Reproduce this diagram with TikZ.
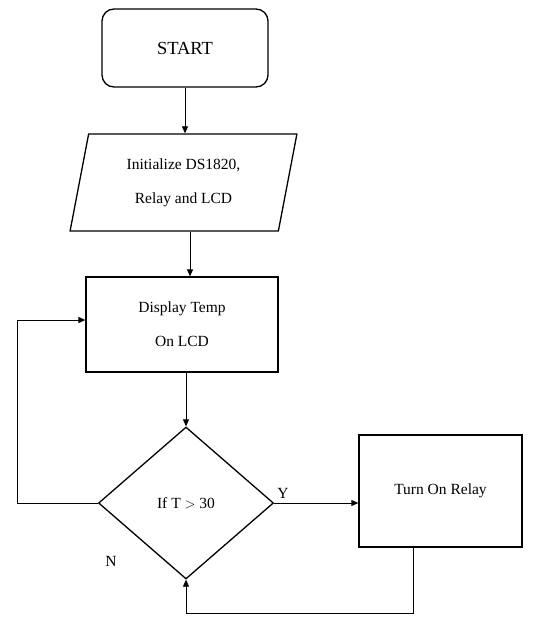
\documentclass[tikz,border=0pt]{standalone}
\usepackage{fontspec}
\setmainfont{Liberation Serif}
\usetikzlibrary{arrows.meta, shapes.geometric}

\begin{document}
\begin{tikzpicture}[x=1pt, y=-1pt,
    box/.style={draw, line width=1.3pt, align=center, inner sep=0pt, font=\fontsize{15.5}{34}\selectfont},
    flow/.style={-{Triangle[length=7pt, width=6pt]}, line width=0.8pt},
    lbl/.style={font=\fontsize{15.5}{18}\selectfont}]
    \useasboundingbox (0,0) rectangle (542,619);

    \node[box, rounded corners=12pt, minimum width=166pt, minimum height=78pt, font=\fontsize{18.5}{22}\selectfont] (start) at (185,48) {START};
    \node[box, trapezium, trapezium left angle=77, trapezium right angle=103, trapezium stretches=true,
          minimum width=227pt, minimum height=97pt] (init) at (183.5,182.5) {Initialize DS1820,\\Relay and LCD};
    \node[box, minimum width=192pt, minimum height=95pt] (disp) at (182,324.5) {Display Temp\\On LCD};
    \node[box, diamond, minimum width=175pt, minimum height=152pt] (dec) at (186,503) {If T $>$ 30};
    \node[box, minimum width=163pt, minimum height=112pt] (relay) at (440.5,491) {Turn On Relay};

    \node[lbl] (yes) at (283,493) {Y};
    \node[lbl] (no) at (111,561) {N};

    \coordinate (loop) at (17,503);
    \coordinate (ret) at (413,613);

    \draw[flow] (start.south) -- (start.south |- init.north);
    \draw[flow] ([xshift=6.5pt]init.south) -- ([xshift=6.5pt]init.south |- disp.north);
    \draw[flow] (dec.north |- disp.south) -- (dec.north);
    \draw[flow] (dec.east) -- (dec.east -| relay.west);
    \draw[flow] (ret |- relay.south) -- (ret) -| (dec.south);
    \draw[flow] (dec.west) -- (loop) |- ([yshift=4.5pt]disp.west);
\end{tikzpicture}
\end{document}
